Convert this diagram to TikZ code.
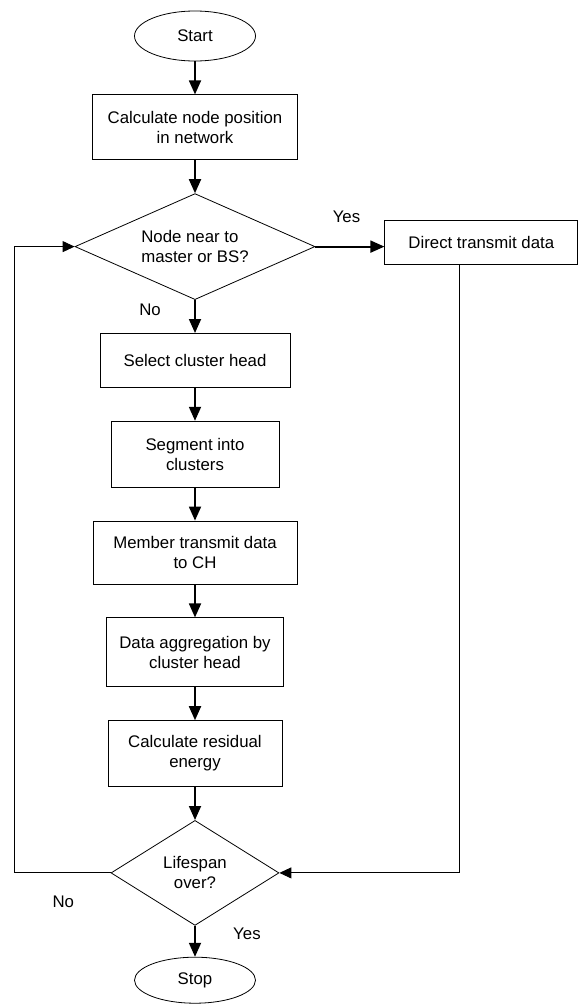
\documentclass[tikz,border=0pt]{standalone}
\usepackage{fontspec}
\setmainfont{Liberation Sans}
\usetikzlibrary{positioning, arrows.meta, shapes.geometric}

\begin{document}
\begin{tikzpicture}[
    x=1pt, y=1pt,
    node distance=33pt,
    every node/.style={font=\fontsize{16.8pt}{20pt}\selectfont},
    term/.style={draw, ellipse, line width=0.8pt, minimum width=121pt,
                 minimum height=50pt, inner sep=0pt},
    proc/.style={draw, line width=0.8pt, align=center, inner sep=0pt},
    dec/.style={draw, diamond, aspect=2, line width=0.8pt, inner sep=1pt},
    arr/.style={-{Triangle[length=14pt, width=12pt]}, line width=1.8pt},
    back/.style={-{Triangle[length=12pt, width=11pt]}, line width=0.9pt},
]
    \useasboundingbox (0,0) rectangle (579,-1004);

    \node[term] (start) at (195,-36) {Start};
    \node[proc, below=of start, minimum width=205pt, minimum height=65pt] (calcpos) {Calculate node position\\in network};
    \node[dec, below=of calcpos, minimum width=240pt, minimum height=106pt, align=left] (near) {Node near to\\master or BS?};
    \node[proc, right=69pt of near, yshift=4pt, minimum width=193pt, minimum height=44pt] (direct) {Direct transmit data};
    \node[proc, below=of near, minimum width=190pt, minimum height=54pt] (select) {Select cluster head};
    \node[proc, below=of select, minimum width=168pt, minimum height=66pt] (segment) {Segment into\\clusters};
    \node[proc, below=of segment, minimum width=204pt, minimum height=63pt] (member) {Member transmit data\\to CH};
    \node[proc, below=of member, minimum width=177pt, minimum height=69pt] (aggr) {Data aggregation by\\cluster head};
    \node[proc, below=of aggr, minimum width=174pt, minimum height=66pt] (resid) {Calculate residual\\energy};
    \node[dec, below=of resid, minimum width=168pt, minimum height=105pt, align=center] (life) {Lifespan\\over?};
    \node[term, below=31pt of life, minimum height=46pt] (stop) {Stop};

    % loop-back lines
    \coordinate (lx) at (14,0);
    \coordinate (rx) at (459,0);

    \draw[arr] (start) -- (calcpos);
    \draw[arr] (calcpos) -- (near);
    \draw[arr] (near.east) -- node[above=20pt, pos=0.45] {Yes} (near.east -| direct.west);
    \draw[arr] (near) -- node[left=30pt, pos=0.3] {No} (select);
    \draw[arr] (select) -- (segment);
    \draw[arr] (segment) -- (member);
    \draw[arr] (member) -- (aggr);
    \draw[arr] (aggr) -- (resid);
    \draw[arr] (resid) -- (life);
    \draw[arr] (life) -- node[right=34pt, pos=0.25] {Yes} (stop);

    \draw[back] (life.west) -- node[below=19pt, pos=0.49] {No} (life.west -| lx) |- (near.west);
    \draw[back] (direct.south -| rx) |- (life.east);
\end{tikzpicture}
\end{document}
